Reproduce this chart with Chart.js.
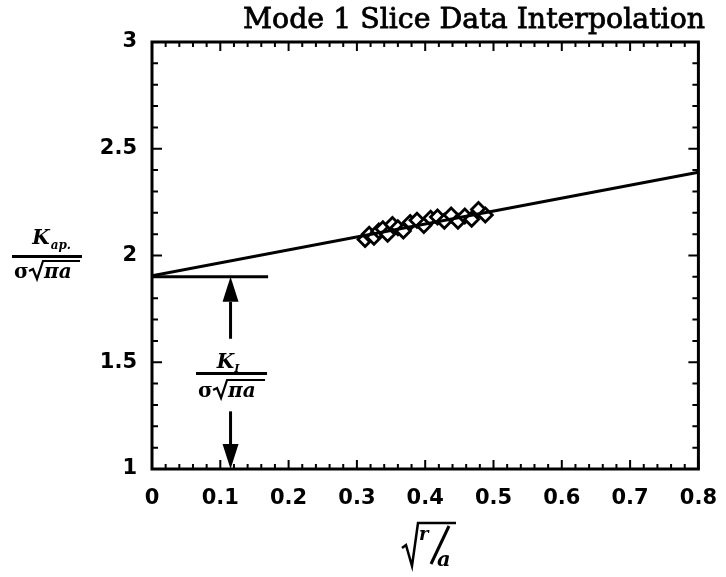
<!DOCTYPE html>
<html>
<head>
<meta charset="utf-8">
<script src="https://cdn.jsdelivr.net/npm/chart.js@4/dist/chart.umd.min.js"></script>
<style>
html,body{margin:0;padding:0;background:#fff;}
#wrap{width:726px;height:577px;}
</style>
</head>
<body>
<div id="wrap"><canvas id="c" width="726" height="577"></canvas></div>
<script>
// ---- data ----
const titleText = "Mode 1 Slice Data Interpolation";
const xTickValues = [0, 0.1, 0.2, 0.3, 0.4, 0.5, 0.6, 0.7, 0.8];
const xTickLabels = ["0", "0.1", "0.2", "0.3", "0.4", "0.5", "0.6", "0.7", "0.8"];
const yTickValues = [1, 1.5, 2, 2.5, 3];
const yTickLabels = ["1", "1.5", "2", "2.5", "3"];
const sliceX = [0.312, 0.318, 0.325, 0.332, 0.338, 0.345, 0.352, 0.360, 0.368, 0.378, 0.388, 0.398, 0.408, 0.418, 0.428, 0.438, 0.448, 0.458, 0.468, 0.478, 0.488];
const sliceY = [2.075, 2.10, 2.085, 2.115, 2.125, 2.10, 2.145, 2.13, 2.115, 2.155, 2.165, 2.14, 2.175, 2.18, 2.16, 2.19, 2.16, 2.185, 2.17, 2.215, 2.19];
const fitX = [0, 0.8];
const fitY = [1.905, 2.39];
const kiLineX = [0, 0.17];
const kiLineY = [1.9, 1.9];
const arrowX = 0.115;
const arrowUp = [1.61, 1.9];   // shaft start, tip
const arrowDown = [1.27, 1.0]; // shaft start, tip

const toPts = (xs, ys) => xs.map((x, i) => ({x: x, y: ys[i]}));

function frac(ctx, cx, barY, barW, numText, subText, numBase, subDx, subBase, subSize, denBase) {
  ctx.save();
  ctx.fillStyle = '#000';
  ctx.strokeStyle = '#000';
  ctx.fillRect(cx - barW / 2, barY, barW, 3);
  ctx.font = 'italic bold 20px "DejaVu Serif"';
  ctx.textBaseline = 'alphabetic';
  ctx.textAlign = 'left';
  const kw = ctx.measureText(numText).width;
  const kx = cx - kw / 2 - 6;
  ctx.fillText(numText, kx, numBase);
  ctx.font = 'italic bold ' + subSize + 'px "DejaVu Serif"';
  ctx.fillText(subText, kx + kw + subDx, subBase);
  // denominator: sigma sqrt(pi a)
  const left = cx - barW / 2 + 2;
  ctx.font = 'bold 20px "DejaVu Serif"';
  ctx.fillText('σ', left, denBase);
  const sx = left + 15;
  ctx.lineWidth = 2.2;
  ctx.beginPath();
  ctx.moveTo(sx, denBase - 7);
  ctx.lineTo(sx + 4, denBase - 9);
  ctx.lineTo(sx + 8, denBase + 1);
  ctx.lineTo(sx + 14, denBase - 17);
  ctx.lineTo(cx + barW / 2 - 2, denBase - 17);
  ctx.stroke();
  ctx.font = 'italic bold 20px "DejaVu Serif"';
  ctx.fillText('πa', sx + 15, denBase);
  ctx.restore();
}

const deco = {
  id: 'deco',
  beforeDraw(chart) {
    const ctx = chart.ctx;
    ctx.save();
    ctx.fillStyle = '#fff';
    ctx.fillRect(0, 0, chart.width, chart.height);
    ctx.restore();
  },
  afterDraw(chart) {
    const ctx = chart.ctx;
    const a = chart.chartArea;
    const xs = chart.scales.x, ys = chart.scales.y;
    ctx.save();
    ctx.strokeStyle = '#000';
    ctx.fillStyle = '#000';
    // inward tick marks on all four sides
    ctx.lineWidth = 2;
    for (let i = 0; i <= 40; i++) {
      const v = i * 0.02;
      const p = xs.getPixelForValue(v);
      const len = (i % 5 === 0) ? 9 : 5;
      ctx.beginPath();
      ctx.moveTo(p, a.bottom); ctx.lineTo(p, a.bottom - len);
      ctx.moveTo(p, a.top); ctx.lineTo(p, a.top + len);
      ctx.stroke();
    }
    for (let i = 0; i <= 20; i++) {
      const v = 1 + i * 0.1;
      const p = ys.getPixelForValue(v);
      const len = (i % 5 === 0) ? 10 : 6;
      ctx.beginPath();
      ctx.moveTo(a.left, p); ctx.lineTo(a.left + len, p);
      ctx.moveTo(a.right, p); ctx.lineTo(a.right - len, p);
      ctx.stroke();
    }
    // frame
    ctx.lineWidth = 3;
    ctx.strokeRect(a.left, a.top, a.right - a.left, a.bottom - a.top);

    // arrows
    const ax = xs.getPixelForValue(arrowX);
    const drawArrow = (fromV, tipV) => {
      const y0 = ys.getPixelForValue(fromV);
      const yt = ys.getPixelForValue(tipV);
      const dir = yt < y0 ? -1 : 1;
      const headLen = 25, headW = 8;
      const yb = yt - dir * headLen;
      ctx.lineWidth = 3;
      ctx.beginPath();
      ctx.moveTo(ax, y0); ctx.lineTo(ax, yb);
      ctx.stroke();
      ctx.beginPath();
      ctx.moveTo(ax, yt);
      ctx.lineTo(ax - headW, yb);
      ctx.lineTo(ax + headW, yb);
      ctx.closePath();
      ctx.fill();
    };
    drawArrow(arrowUp[0], arrowUp[1]);
    drawArrow(arrowDown[0], arrowDown[1]);

    // annotation fraction K_I / (sigma sqrt(pi a))
    frac(ctx, ax + 1, 372, 71, 'K', 'I', 368, 0, 372, 11, 397);

    // y axis title K_ap. / (sigma sqrt(pi a))
    frac(ctx, 47, 255, 70, 'K', 'ap.', 244, 1, 249, 12, 278);

    // x axis title sqrt(r/a)
    ctx.lineWidth = 2.5;
    ctx.beginPath();
    ctx.moveTo(402, 548);
    ctx.lineTo(406, 545);
    ctx.lineTo(412, 566);
    ctx.lineTo(418, 523);
    ctx.lineTo(456, 523);
    ctx.stroke();
    ctx.font = 'italic bold 18px "DejaVu Serif"';
    ctx.textAlign = 'left';
    ctx.fillText('r', 419, 540);
    ctx.lineWidth = 3;
    ctx.beginPath();
    ctx.moveTo(449, 526);
    ctx.lineTo(431, 564);
    ctx.stroke();
    ctx.font = 'italic bold 21px "DejaVu Serif"';
    ctx.fillText('a', 437, 566);

    // title
    ctx.font = '24px "DejaVu Serif"';
    const w = ctx.measureText(titleText).width;
    const size = 24 * 462 / w;
    ctx.font = size.toFixed(1) + 'px "DejaVu Serif"';
    ctx.textBaseline = 'alphabetic';
    ctx.lineWidth = 0.8;
    ctx.fillText(titleText, 243, 28);
    ctx.strokeText(titleText, 243, 28);
    ctx.restore();
  }
};

const tickFont = {family: '"DejaVu Sans", sans-serif', size: 21, weight: 'bold'};

new Chart(document.getElementById('c'), {
  type: 'scatter',
  data: {
    datasets: [
      {
        label: 'fit',
        data: toPts(fitX, fitY),
        showLine: true,
        borderColor: '#000',
        borderWidth: 3,
        pointRadius: 0,
        fill: false
      },
      {
        label: 'KI level',
        data: toPts(kiLineX, kiLineY),
        showLine: true,
        borderColor: '#000',
        borderWidth: 3,
        pointRadius: 0,
        fill: false
      },
      {
        label: 'slice data',
        data: toPts(sliceX, sliceY),
        showLine: false,
        pointStyle: 'rectRot',
        pointRadius: 7,
        pointBorderWidth: 2.8,
        pointBorderColor: '#000',
        pointBackgroundColor: '#fff'
      }
    ]
  },
  options: {
    responsive: false,
    animation: false,
    devicePixelRatio: 1,
    layout: {padding: {top: 42, right: 23, left: 0, bottom: 0}},
    plugins: {legend: {display: false}, tooltip: {enabled: false}, title: {display: false}},
    scales: {
      x: {
        type: 'linear', min: 0, max: 0.8,
        grid: {display: false},
        border: {display: false},
        afterBuildTicks: s => { s.ticks = xTickValues.map(v => ({value: v})); },
        afterFit: s => { s.height = 108; },
        ticks: {
          color: '#000', font: tickFont, padding: 9, maxRotation: 0,
          callback: (v) => { const i = xTickValues.findIndex(t => Math.abs(t - v) < 1e-9); return i >= 0 ? xTickLabels[i] : ''; }
        }
      },
      y: {
        type: 'linear', min: 1, max: 3,
        grid: {display: false},
        border: {display: false},
        afterBuildTicks: s => { s.ticks = yTickValues.map(v => ({value: v})); },
        afterFit: s => { s.width = 152; },
        ticks: {
          color: '#000', font: tickFont, padding: 7,
          callback: (v) => { const i = yTickValues.findIndex(t => Math.abs(t - v) < 1e-9); return i >= 0 ? yTickLabels[i] : ''; }
        }
      }
    }
  },
  plugins: [deco]
});
</script>
</body>
</html>
